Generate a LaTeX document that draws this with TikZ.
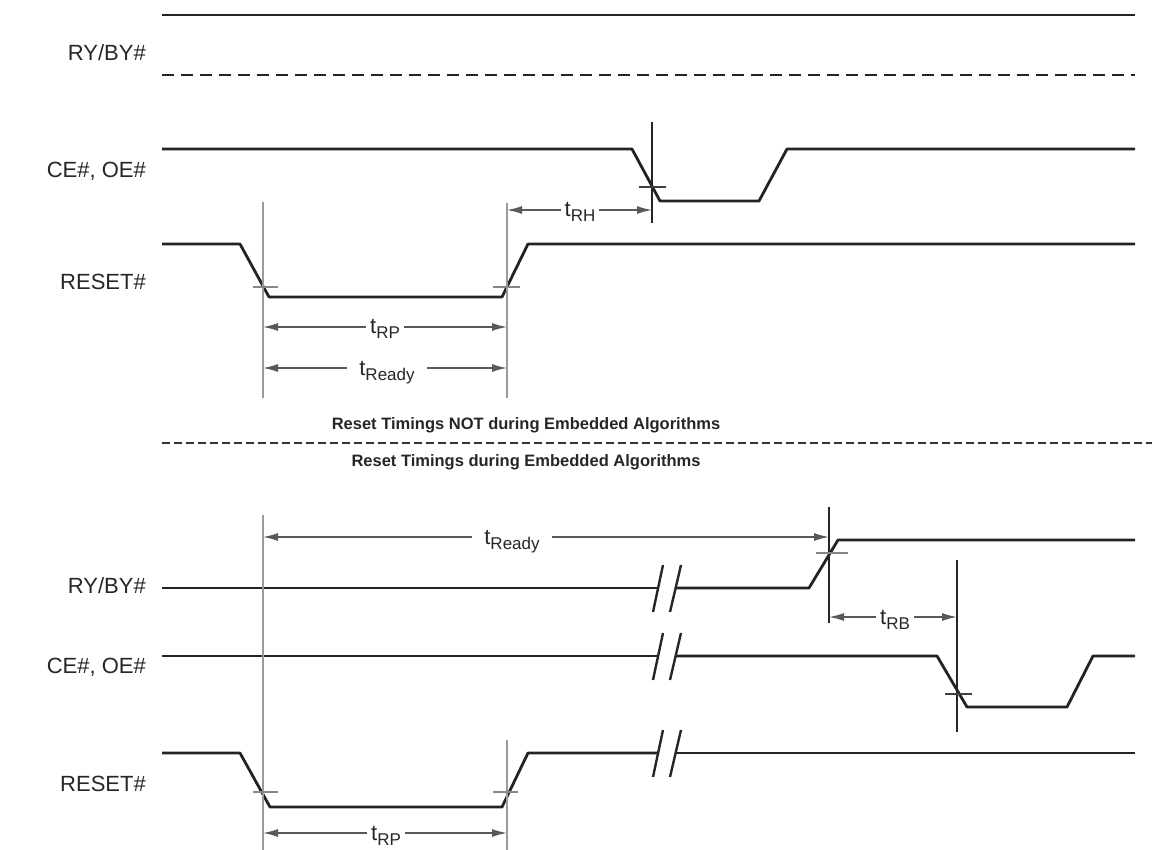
\documentclass[tikz,border=0pt]{standalone}
\usepackage{fontspec}
\setmainfont{Liberation Sans}
\usetikzlibrary{arrows.meta}
\newcommand\tsig[1]{t\raisebox{-5pt}{\fontsize{17}{18}\selectfont #1}}
\begin{document}
\begin{tikzpicture}[x=1pt,y=-1pt,
  wave/.style={line width=2.8pt, draw={rgb,255:red,35;green,35;blue,35}, line join=round},
  guide/.style={line width=2.2pt, draw={rgb,255:red,155;green,155;blue,155}},
  thinguide/.style={line width=1.4pt, draw=black!85},
  tickdark/.style={line width=1.4pt, draw=black!75},
  tickgray/.style={line width=1.6pt, draw={rgb,255:red,135;green,135;blue,135}},
  dim/.style={line width=1.4pt, draw=black!65, {Latex[length=15pt,width=8pt]}-{Latex[length=15pt,width=8pt]}},
  siglabel/.style={font=\fontsize{22}{26}\selectfont, anchor=base east, inner sep=0pt, text=black!85},
  dimlabel/.style={font=\fontsize{22}{26}\selectfont, anchor=base, fill=white, inner xsep=4pt, inner ysep=1pt, text=black!85},
  title/.style={font=\bfseries\fontsize{16.5}{20}\selectfont, text=black!85},
  brk/.style={line width=2.4pt, draw=black!85}
]
\useasboundingbox (0,0) rectangle (1154,850);

% ---------------- top section ----------------
\node[siglabel] (lry1) at (146,61) {RY/BY\#};
\node[siglabel] (lce1) at (146,178) {CE\#, OE\#};
\node[siglabel] (lrs1) at (146,290) {RESET\#};

\draw[wave] (162,15) -- (1135,15);
\draw[wave, line width=2.4pt, dash pattern=on 12pt off 7pt] (162,75) -- (1135,75);

\draw[wave] (162,149) -- (632,149) -- (660,201) -- (759,201) -- (787,149) -- (1135,149);
\draw[wave] (162,244) -- (240,244) -- (269,297) -- (502,297) -- (528,244) -- (1135,244);

\coordinate (g1top) at (263,202); \coordinate (g1bot) at (263,398);
\coordinate (g2top) at (507,203); \coordinate (g2bot) at (507,398);
\draw[guide] (g1top) -- (g1bot);
\draw[guide] (g2top) -- (g2bot);
\draw[tickgray] (253,287) -- (278,287);
\draw[tickgray] (493,287) -- (520,287);

\coordinate (c1top) at (652,122); \coordinate (c1bot) at (652,223);
\draw[thinguide] (c1top) -- (c1bot);
\draw[tickdark] (639,187) -- (666,187);

\coordinate (rhL) at (507,210); \coordinate (rhR) at (652,210);
\draw[dim] (rhL) -- (rhR);
\node[dimlabel] (trh) at (580,217) {\tsig{RH}};

\coordinate (rpL) at (263,327); \coordinate (rpR) at (507,327);
\draw[dim] (rpL) -- (rpR);
\node[dimlabel] (trp) at (385,334) {\tsig{RP}};

\coordinate (rdL) at (263,368); \coordinate (rdR) at (507,368);
\draw[dim] (rdL) -- (rdR);
\node[dimlabel, inner xsep=12pt] (trd) at (387,375) {\tsig{Ready}};

% ---------------- titles and separator ----------------
\node[title] (t1) at (526,425) {Reset Timings NOT during Embedded Algorithms};
\coordinate (sepL) at (162,443); \coordinate (sepR) at (1152,443);
\draw[line width=2.2pt, draw=black!80, dash pattern=on 8pt off 4pt] (sepL) -- (sepR);
\node[title] (t2) at (526,462) {Reset Timings during Embedded Algorithms};

% ---------------- bottom section ----------------
\node[siglabel] (lry2) at (146,593) {RY/BY\#};
\node[siglabel] (lce2) at (146,673) {CE\#, OE\#};
\node[siglabel] (lrs2) at (146,791) {RESET\#};

% RY/BY#
\draw[wave] (162,588) -- (658,588);
\draw[wave] (675,588) -- (809,588) -- (838,540) -- (1135,540);
\draw[brk] (653,612) -- (663,565);
\draw[brk] (670,612) -- (681,565);

% CE#, OE#
\draw[wave] (162,656) -- (658,656);
\draw[wave] (675,656) -- (937,656) -- (967,707) -- (1067,707) -- (1093,656) -- (1135,656);
\draw[brk] (653,680) -- (663,633);
\draw[brk] (670,680) -- (681,633);

% RESET#
\draw[wave] (162,753) -- (240,753) -- (270,807) -- (502,807) -- (528,753) -- (658,753);
\draw[wave] (675,753) -- (1135,753);
\draw[brk] (653,777) -- (663,730);
\draw[brk] (670,777) -- (681,730);

\coordinate (g3top) at (263,515); \coordinate (g3bot) at (263,850);
\coordinate (g4top) at (507,740); \coordinate (g4bot) at (507,850);
\draw[guide] (g3top) -- (g3bot);
\draw[guide] (g4top) -- (g4bot);
\draw[tickgray] (253,792) -- (278,792);
\draw[tickgray] (493,792) -- (518,792);

\coordinate (c2top) at (829,507); \coordinate (c2bot) at (829,623);
\draw[thinguide] (c2top) -- (c2bot);
\draw[tickgray] (816,553) -- (848,553);

\coordinate (c3top) at (957,560); \coordinate (c3bot) at (957,732);
\draw[thinguide] (c3top) -- (c3bot);
\draw[tickdark] (945,694) -- (972,694);

\coordinate (rd2L) at (263,537); \coordinate (rd2R) at (829,537);
\draw[dim] (rd2L) -- (rd2R);
\node[dimlabel, inner xsep=12pt] (trd2) at (512,544) {\tsig{Ready}};

\coordinate (rbL) at (829,617); \coordinate (rbR) at (957,617);
\draw[dim] (rbL) -- (rbR);
\node[dimlabel] (trb) at (895,624) {\tsig{RB}};

\coordinate (rp2L) at (263,833); \coordinate (rp2R) at (507,833);
\draw[dim] (rp2L) -- (rp2R);
\node[dimlabel] (trp2) at (386,840) {\tsig{RP}};
\end{tikzpicture}
\end{document}
